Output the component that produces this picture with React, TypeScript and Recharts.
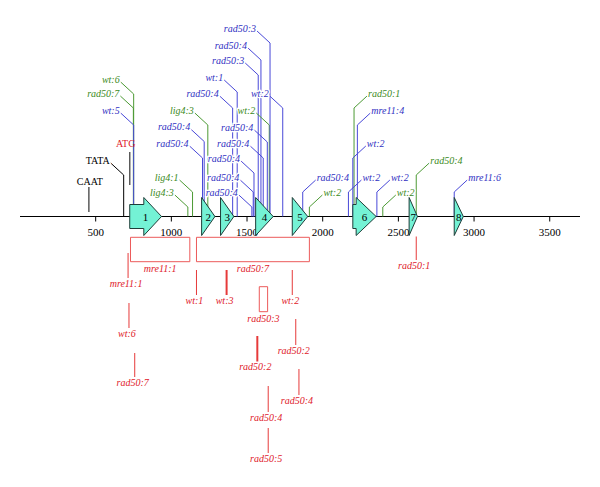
import React from 'react';
import { ComposedChart, XAxis, YAxis, Scatter, ReferenceLine, ReferenceArea } from 'recharts';

const FONT = '"Liberation Serif", "Times New Roman", serif';
const BLUE_TEXT = '#3030c2';
const BLUE_LINE = '#4848d8';
const GREEN_TEXT = '#3a8a22';
const GREEN_LINE = '#4c9a34';
const RED_TEXT = '#e0202a';
const RED_LINE = '#e63a3a';
const BOX_LINE = '#ec5a5a';
const EXON_FILL = '#74f2d5';
const EXON_STROKE = '#1e3d38';

// genomic axis ticks
const axisTicks = [500, 1000, 1500, 2000, 2500, 3000, 3500];

// exons: start, start of arrow head, end
const exons = [
  { n: '1', start: 725, neck: 818, end: 935 },
  { n: '2', start: 1200, neck: 1200, end: 1288 },
  { n: '3', start: 1325, neck: 1325, end: 1413 },
  { n: '4', start: 1557, neck: 1557, end: 1673 },
  { n: '5', start: 1799, neck: 1799, end: 1901 },
  { n: '6', start: 2199, neck: 2221, end: 2353 },
  { n: '7', start: 2571, neck: 2571, end: 2626 },
  { n: '8', start: 2869, neck: 2869, end: 2929 },
];

// upper annotations (height above the axis line)
const greenMarks = [
  { pos: 751, top: 122.5, label: 'wt:6', side: 'L' },
  { pos: 749, top: 108.5, label: 'rad50:7', side: 'L' },
  { pos: 1109, top: 9.5, label: 'lig4:3', side: 'L' },
  { pos: 1140, top: 24.5, label: 'lig4:1', side: 'L' },
  { pos: 1241, top: 91.5, label: 'lig4:3', side: 'L' },
  { pos: 1647, top: 91.5, label: 'wt:2', side: 'L' },
  { pos: 1912, top: 9.5, label: 'wt:2', side: 'R' },
  { pos: 2207, top: 108.5, label: 'rad50:1', side: 'R' },
  { pos: 2397, top: 9.5, label: 'wt:2', side: 'R' },
  { pos: 2618, top: 41.5, label: 'rad50:4', side: 'R' },
];

const blueMarks = [
  { pos: 751, top: 91.5, label: 'wt:5', side: 'L' },
  { pos: 1206, top: 58.5, label: 'rad50:4', side: 'L' },
  { pos: 1217, top: 75, label: 'rad50:4', side: 'L' },
  { pos: 1405, top: 108.5, label: 'rad50:4', side: 'L' },
  { pos: 1435, top: 124.5, label: 'wt:1', side: 'L' },
  { pos: 1532, top: 9.5, label: 'rad50:4', side: 'L' },
  { pos: 1541, top: 24.5, label: 'rad50:4', side: 'L' },
  { pos: 1546, top: 43.5, label: 'rad50:4', side: 'L' },
  { pos: 1574, top: 141.5, label: 'rad50:3', side: 'L' },
  { pos: 1592, top: 156.5, label: 'rad50:4', side: 'L' },
  { pos: 1607, top: 58.5, label: 'rad50:4', side: 'L' },
  { pos: 1634, top: 74.5, label: 'rad50:4', side: 'L' },
  { pos: 1652, top: 173.5, label: 'rad50:3', side: 'L' },
  { pos: 1736, top: 108.5, label: 'wt:2', side: 'L' },
  { pos: 1868, top: 24.5, label: 'rad50:4', side: 'R' },
  { pos: 2170, top: 24.5, label: 'wt:2', side: 'R' },
  { pos: 2199, top: 58.5, label: 'wt:2', side: 'R' },
  { pos: 2229, top: 91.5, label: 'mre11:4', side: 'R' },
  { pos: 2358, top: 24.5, label: 'wt:2', side: 'R' },
  { pos: 2869, top: 24.5, label: 'mre11:6', side: 'R' },
];

const blackMarks = [{ pos: 685, top: 41.5, label: 'TATA', side: 'L' }];

// promoter elements: short grey bars with label above
const caatMark = [{ pos: 455, bottom: 4.5, top: 29.5, label: 'CAAT' }];
const atgMark = [{ pos: 725, bottom: 31.5, top: 64.5, label: 'ATG' }];

// lower (red) annotations
const redMarks = [
  { pos: 714, top: -36.5, bottom: -61.5, label: 'mre11:1' },
  { pos: 720, top: -86.5, bottom: -111.5, label: 'wt:6' },
  { pos: 758, top: -136.5, bottom: -160.5, label: 'rad50:7' },
  { pos: 1166, top: -53.5, bottom: -78.5, label: 'wt:1' },
  { pos: 1799, top: -53.5, bottom: -78.5, label: 'wt:2' },
  { pos: 1822, top: -102.5, bottom: -128.5, label: 'rad50:2' },
  { pos: 1843, top: -152.5, bottom: -178.5, label: 'rad50:4' },
  { pos: 1640, top: -169.5, bottom: -195.5, label: 'rad50:4' },
  { pos: 1640, top: -211.5, bottom: -236.5, label: 'rad50:5' },
  { pos: 2618, top: -20, bottom: -43.5, label: 'rad50:1' },
];
const redThickMarks = [
  { pos: 1365, top: -53.5, bottom: -78.5, label: 'wt:3' },
  { pos: 1568, top: -119.5, bottom: -145, label: 'rad50:2' },
];
const redBoxes = [
  { start: 730, end: 1122, top: -20.8, bottom: -45.2, label: 'mre11:1' },
  { start: 1166, end: 1912, top: -20.8, bottom: -45.2, label: 'rad50:7' },
  { start: 1581, end: 1636, top: -70.2, bottom: -95.2, label: 'rad50:3' },
];

const toPoints = (arr: any[]) => arr.map((m) => ({ x: m.pos, y: m.top, label: m.label, side: m.side }));

const makeLeaderLabel = (textColor: string, lineColor: string, italic = true) => (p: any) => {
  const { cx, cy, payload } = p;
  if (cx == null || cy == null) return <g />;
  const dir = payload.side === 'R' ? 1 : -1;
  const ex = cx + dir * 13;
  const ey = cy - 12;
  return (
    <g>
      <line x1={cx} y1={cy} x2={ex} y2={ey} stroke={lineColor} strokeWidth={1} />
      <text
        x={ex + dir * 1}
        y={ey + 0.5}
        textAnchor={dir > 0 ? 'start' : 'end'}
        fontFamily={FONT}
        fontStyle={italic ? 'italic' : 'normal'}
        fontSize={10}
        fill={textColor}
        stroke="#fff"
        strokeWidth={2.5}
        paintOrder="stroke"
      >
        {payload.label}
      </text>
    </g>
  );
};

const tickShape = (p: any) => {
  const { cx, cy, payload } = p;
  return (
    <g>
      <line x1={cx} y1={cy} x2={cx} y2={cy + 5} stroke="#000" strokeWidth={1} />
      <text x={cx} y={cy + 19} textAnchor="middle" fontFamily={FONT} fontSize={11} fill="#000">
        {payload.x}
      </text>
    </g>
  );
};

const lowerLabelShape = (p: any) => {
  const { cx, cy, payload } = p;
  return (
    <text
      x={cx - 2}
      y={cy + 8.5}
      textAnchor="middle"
      fontFamily={FONT}
      fontStyle="italic"
      fontSize={10}
      fill={RED_TEXT}
    >
      {payload.label}
    </text>
  );
};

const boxLabelShape = (p: any) => {
  const { cx, cy, payload } = p;
  return (
    <text x={cx} y={cy + 10} textAnchor="middle" fontFamily={FONT} fontStyle="italic" fontSize={10} fill={RED_TEXT}>
      {payload.label}
    </text>
  );
};

const aboveLabelShape = (color: string, dx: number, dy: number) => (p: any) => {
  const { cx, cy, payload } = p;
  return (
    <text x={cx + dx} y={cy + dy} textAnchor="middle" fontFamily={FONT} fontSize={10} fill={color}>
      {payload.label}
    </text>
  );
};

const exonShape = (e: { n: string; start: number; neck: number; end: number }) => (p: any) => {
  const { x, y, width, height } = p;
  if (x == null || width == null) return <g />;
  const mid = y + height / 2;
  const neckX = x + (width * (e.neck - e.start)) / (e.end - e.start);
  const body = 12;
  const d =
    e.neck > e.start
      ? `M${x},${mid - body}L${neckX},${mid - body}L${neckX},${y}L${x + width},${mid}L${neckX},${y + height}L${neckX},${mid + body}L${x},${mid + body}Z`
      : `M${x},${y}L${x + width},${mid}L${x},${y + height}Z`;
  return (
    <g>
      <path d={d} fill={EXON_FILL} stroke={EXON_STROKE} strokeWidth={1} strokeLinejoin="miter" />
      <text x={x + width / 2} y={mid + 4} textAnchor="middle" fontFamily={FONT} fontSize={11} fill="#000">
        {e.n}
      </text>
    </g>
  );
};

export default function App() {
  const tickData = axisTicks.map((t) => ({ x: t, y: 0 }));
  const redLabelData = [...redMarks, ...redThickMarks].map((m) => ({ x: m.pos, y: m.bottom, label: m.label }));
  const boxLabelData = redBoxes.map((b) => ({ x: (b.start + b.end) / 2, y: b.bottom, label: b.label }));
  const caatData = caatMark.map((m) => ({ x: m.pos, y: m.top, label: m.label }));
  const atgData = atgMark.map((m) => ({ x: m.pos, y: m.top, label: m.label }));

  return (
    <div style={{ position: 'absolute', left: 0, top: 0, background: '#fff' }}>
      <ComposedChart width={600} height={487} margin={{ top: 0, right: 20, bottom: 0, left: 20 }}>
        <XAxis type="number" dataKey="x" domain={[0, 3700]} hide />
        <YAxis type="number" dataKey="y" domain={[-270.5, 216.5]} hide />

        <ReferenceLine y={0} stroke="#000" strokeWidth={1} />

        {greenMarks.map((m, i) => (
          <ReferenceLine
            key={'gv' + i}
            segment={[{ x: m.pos, y: 0 }, { x: m.pos, y: m.top }]}
            stroke={GREEN_LINE}
            strokeWidth={1}
          />
        ))}
        {blueMarks.map((m, i) => (
          <ReferenceLine
            key={'bv' + i}
            segment={[{ x: m.pos, y: 0 }, { x: m.pos, y: m.top }]}
            stroke={BLUE_LINE}
            strokeWidth={1}
          />
        ))}
        {blackMarks.map((m, i) => (
          <ReferenceLine
            key={'kv' + i}
            segment={[{ x: m.pos, y: 0 }, { x: m.pos, y: m.top }]}
            stroke="#000"
            strokeWidth={1}
          />
        ))}
        {[...caatMark, ...atgMark].map((m, i) => (
          <ReferenceLine
            key={'pv' + i}
            segment={[{ x: m.pos, y: m.bottom }, { x: m.pos, y: m.top }]}
            stroke="#5a5a5a"
            strokeWidth={1.5}
          />
        ))}
        {redMarks.map((m, i) => (
          <ReferenceLine
            key={'rv' + i}
            segment={[{ x: m.pos, y: m.top }, { x: m.pos, y: m.bottom }]}
            stroke={RED_LINE}
            strokeWidth={1}
          />
        ))}
        {redThickMarks.map((m, i) => (
          <ReferenceLine
            key={'rt' + i}
            segment={[{ x: m.pos, y: m.top }, { x: m.pos, y: m.bottom }]}
            stroke={RED_LINE}
            strokeWidth={2}
          />
        ))}
        {redBoxes.map((b, i) => (
          <ReferenceArea
            key={'rb' + i}
            x1={b.start}
            x2={b.end}
            y1={b.bottom}
            y2={b.top}
            fill="none"
            fillOpacity={0}
            stroke={BOX_LINE}
            strokeWidth={1}
          />
        ))}

        <Scatter data={tickData} dataKey="y" shape={tickShape} isAnimationActive={false} />
        <Scatter data={toPoints(greenMarks)} dataKey="y" shape={makeLeaderLabel(GREEN_TEXT, GREEN_LINE)} isAnimationActive={false} />
        <Scatter data={toPoints(blueMarks)} dataKey="y" shape={makeLeaderLabel(BLUE_TEXT, BLUE_LINE)} isAnimationActive={false} />
        <Scatter data={toPoints(blackMarks)} dataKey="y" shape={makeLeaderLabel('#000', '#000', false)} isAnimationActive={false} />
        <Scatter data={caatData} dataKey="y" shape={aboveLabelShape('#000', 1, -2)} isAnimationActive={false} />
        <Scatter data={atgData} dataKey="y" shape={aboveLabelShape(RED_TEXT, -4, -5.5)} isAnimationActive={false} />
        <Scatter data={redLabelData} dataKey="y" shape={lowerLabelShape} isAnimationActive={false} />
        <Scatter data={boxLabelData} dataKey="y" shape={boxLabelShape} isAnimationActive={false} />

        {exons.map((e, i) => (
          <ReferenceArea
            key={'ex' + i}
            x1={e.start}
            x2={e.end}
            y1={-19}
            y2={19}
            shape={exonShape(e)}
            zIndex={700}
          />
        ))}
      </ComposedChart>
    </div>
  );
}
